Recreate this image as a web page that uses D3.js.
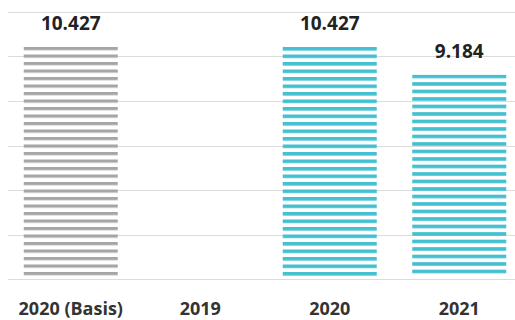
<!DOCTYPE html>
<html><head><meta charset="utf-8">
<script src="https://cdn.jsdelivr.net/npm/d3@7"></script>
<style>html,body{margin:0;padding:0;background:#fff;}svg{display:block;}</style>
</head><body>
<script>
const categories = ["2020 (Basis)", "2019", "2020", "2021"];
const values = [10.427, null, 10.427, 9.184];
const valueLabels = ["10.427", "", "10.427", "9.184"];
const barKinds = ["basis", "none", "actual", "actual"];
const yTicks = [0, 2, 4, 6, 8, 10, 12];

const W = 515, H = 320;
const svg = d3.select("body").append("svg").attr("width", W).attr("height", H);

const x = d3.scaleBand().domain(categories).range([6, 524]).paddingInner(0.27).paddingOuter(0.135);
const y = d3.scaleLinear().domain([0, 12]).range([279, 12]);

const data = categories.map((c, i) => ({ c, i, v: values[i], label: valueLabels[i], kind: barKinds[i] }));
const bars = data.filter(d => d.v != null);
const bw = 94;

const defs = svg.append("defs");
bars.forEach(d => {
  const basis = d.kind === "basis";
  const period = 7.5;
  const p = defs.append("pattern").attr("id", "p" + d.i).attr("patternUnits", "userSpaceOnUse")
    .attr("x", 0).attr("y", y(d.v)).attr("width", 8).attr("height", period);
  p.append("rect").attr("x", 0).attr("y", 0).attr("width", 8)
    .attr("height", basis ? 3.2 : 3.6)
    .attr("fill", basis ? "#a6a6a6" : "#45c0d1");
});

// gridlines
svg.append("g").selectAll("line").data(yTicks).join("line")
  .attr("x1", 8).attr("x2", W)
  .attr("y1", d => Math.round(y(d)) + 0.5).attr("y2", d => Math.round(y(d)) + 0.5)
  .attr("stroke", "#dcdcdc").attr("stroke-width", 1);

svg.append("g").selectAll("rect").data(bars).join("rect")
  .attr("x", d => x(d.c) + x.bandwidth() / 2 - bw / 2)
  .attr("width", bw)
  .attr("y", d => y(d.v))
  .attr("height", d => y(0) - 2 - y(d.v))
  .attr("fill", d => "url(#p" + d.i + ")");

svg.append("g").selectAll("text").data(bars).join("text")
  .attr("x", d => x(d.c) + x.bandwidth() / 2)
  .attr("y", d => y(d.v) - 17)
  .attr("text-anchor", "middle")
  .attr("font-family", "'Open Sans', sans-serif")
  .attr("font-weight", 700)
  .attr("font-size", 19)
  .attr("fill", "#222")
  .text(d => d.label);

// category axis
const xAxis = svg.append("g").attr("transform", "translate(0,279)")
  .call(d3.axisBottom(x).tickSize(0).tickPadding(0));
xAxis.select(".domain").remove();
xAxis.selectAll("text")
  .attr("y", 36).attr("dy", 0)
  .attr("font-family", "'Open Sans', sans-serif")
  .attr("font-weight", 700)
  .attr("font-size", 18)
  .attr("fill", "#333");
</script>
</body></html>
